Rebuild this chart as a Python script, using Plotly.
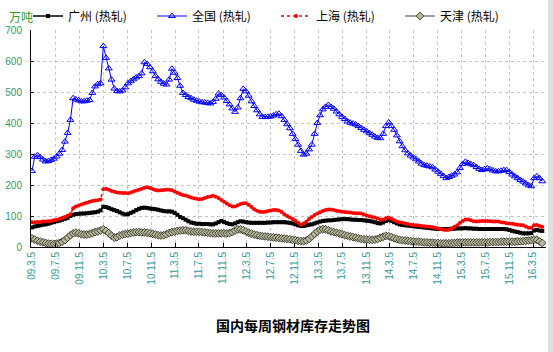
import plotly.graph_objects as go
import pandas as pd

# Weekly stock data sampled every two weeks, starting 2009-03-05
start_date = "2009-03-05"
n_points = 187
dates = pd.date_range(start_date, periods=n_points, freq="14D")

guangzhou = [
    63, 66, 68, 70, 72, 73, 75, 78, 81, 83, 85, 88, 91, 94, 100, 104, 106, 107, 108, 108,
    109, 110, 111, 112, 114, 118, 130, 129, 126, 122, 119, 116, 112, 108, 105, 106, 110, 114, 119, 123,
    126, 127, 126, 124, 123, 122, 120, 118, 116, 115, 115, 114, 110, 104, 97, 93, 88, 83, 79, 77,
    75, 75, 74, 74, 74, 73, 73, 76, 80, 84, 81, 77, 74, 73, 76, 80, 83, 82, 80, 79,
    78, 78, 78, 78, 78, 78, 79, 79, 80, 80, 80, 80, 80, 79, 78, 76, 73, 70, 68, 68,
    70, 72, 73, 76, 79, 82, 84, 85, 86, 86, 87, 88, 89, 90, 90, 90, 89, 88, 88, 87,
    87, 86, 85, 84, 82, 80, 77, 76, 79, 84, 87, 84, 80, 76, 73, 71, 70, 69, 68, 67,
    66, 65, 64, 63, 62, 61, 60, 59, 58, 58, 58, 58, 58, 59, 59, 60, 60, 60, 61, 60,
    60, 59, 59, 58, 58, 58, 58, 58, 58, 58, 58, 58, 58, 57, 55, 52, 50, 48, 46, 44,
    44, 44, 45, 53, 55, 53, 52,
]

quanguo = [
    245, 291, 296, 290, 282, 276, 277, 281, 285, 292, 301, 313, 340, 368, 410, 480, 476, 473, 470, 470,
    472, 474, 497, 518, 525, 528, 648, 610, 576, 540, 511, 503, 502, 505, 515, 528, 535, 541, 547, 551,
    560, 596, 590, 580, 567, 552, 541, 533, 527, 524, 540, 575, 562, 545, 520, 497, 490, 484, 480, 475,
    472, 469, 467, 466, 465, 463, 468, 478, 495, 490, 482, 471, 460, 447, 436, 450, 480, 510, 502, 488,
    470, 455, 441, 428, 420, 419, 420, 421, 424, 428, 430, 422, 410, 396, 383, 365, 348, 330, 310, 298,
    301, 315, 330, 365, 400, 425, 444, 452, 458, 452, 446, 437, 428, 420, 413, 405, 401, 398, 395, 390,
    384, 378, 373, 367, 362, 356, 352, 351, 365, 390, 402, 390, 378, 360, 341, 325, 312, 302, 295, 289,
    283, 276, 269, 264, 262, 260, 257, 250, 243, 236, 229, 222, 226, 230, 234, 241, 255, 268, 275, 271,
    267, 264, 258, 252, 248, 251, 254, 251, 247, 244, 244, 246, 248, 248, 242, 234, 228, 222, 216, 211,
    205, 199, 196, 222, 228, 222, 212,
]

shanghai = [
    80, 80, 81, 81, 82, 82, 83, 84, 86, 88, 90, 94, 97, 101, 106, 125, 131, 134, 137, 140,
    143, 146, 148, 150, 151, 153, 186, 188, 185, 181, 178, 176, 175, 174, 174, 173, 176, 179, 182, 185,
    188, 191, 193, 190, 187, 184, 182, 183, 184, 185, 185, 183, 179, 175, 171, 168, 166, 163, 160, 157,
    156, 154, 155, 158, 161, 163, 165, 162, 158, 152, 146, 140, 135, 131, 131, 135, 139, 141, 141, 136,
    129, 122, 117, 114, 113, 114, 116, 118, 119, 119, 118, 113, 106, 100, 95, 90, 85, 78, 72, 76,
    82, 90, 97, 103, 108, 112, 116, 119, 121, 121, 119, 117, 115, 114, 113, 112, 111, 110, 109, 109,
    108, 105, 102, 99, 97, 95, 92, 88, 89, 93, 95, 91, 86, 82, 80, 78, 76, 74, 72, 71,
    70, 69, 68, 67, 66, 65, 64, 62, 60, 58, 56, 55, 56, 60, 65, 70, 78, 84, 89, 89,
    86, 83, 82, 83, 84, 84, 84, 83, 82, 82, 82, 80, 79, 77, 76, 75, 73, 72, 71, 70,
    66, 62, 62, 70, 71, 68, 65,
]

tianjin = [
    28, 24, 20, 17, 15, 13, 11, 10, 10, 11, 13, 17, 22, 30, 38, 44, 46, 44, 41, 40,
    40, 42, 45, 48, 50, 53, 57, 52, 45, 36, 30, 32, 37, 40, 42, 43, 45, 47, 48, 48,
    47, 47, 46, 44, 42, 40, 38, 37, 38, 41, 45, 48, 50, 52, 53, 54, 54, 52, 50, 49,
    49, 49, 48, 47, 46, 45, 44, 44, 44, 44, 44, 44, 45, 48, 53, 57, 57, 54, 50, 46,
    43, 40, 38, 36, 35, 34, 33, 32, 31, 30, 29, 28, 27, 26, 25, 23, 22, 20, 19, 19,
    21, 26, 34, 42, 50, 56, 58, 57, 54, 50, 48, 46, 44, 41, 38, 36, 34, 32, 30, 28,
    26, 25, 24, 23, 23, 24, 26, 30, 33, 36, 35, 32, 28, 25, 23, 22, 21, 20, 19, 18,
    17, 17, 16, 15, 15, 14, 14, 13, 13, 12, 12, 12, 12, 13, 13, 14, 14, 15, 15, 15,
    15, 15, 15, 15, 15, 15, 15, 16, 16, 16, 16, 17, 17, 17, 17, 17, 17, 18, 18, 19,
    20, 21, 22, 24, 23, 18, 13,
]

tick_dates = [
    "2009-03-05", "2009-07-05", "2009-11-05", "2010-03-05", "2010-07-05", "2010-11-05",
    "2011-03-05", "2011-07-05", "2011-11-05", "2012-03-05", "2012-07-05", "2012-11-05",
    "2013-03-05", "2013-07-05", "2013-11-05", "2014-03-05", "2014-07-05", "2014-11-05",
    "2015-03-05", "2015-07-05", "2015-11-05", "2016-03-05",
]
tick_labels = [
    "09.3.5", "09.7.5", "09.11.5", "10.3.5", "10.7.5", "10.11.5",
    "11.3.5", "11.7.5", "11.11.5", "12.3.5", "12.7.5", "12.11.5",
    "13.3.5", "13.7.5", "13.11.5", "14.3.5", "14.7.5", "14.11.5",
    "15.3.5", "15.7.5", "15.11.5", "16.3.5",
]

names = ["广州 (热轧)", "全国 (热轧)", "上海 (热轧)", "天津 (热轧)"]

fig = go.Figure()
fig.add_trace(go.Scatter(
    x=dates, y=guangzhou, name=names[0], mode="lines+markers",
    line=dict(color="#000000", width=1.5),
    marker=dict(symbol="square", size=4, color="#000000"),
))
fig.add_trace(go.Scatter(
    x=dates, y=quanguo, name=names[1], mode="lines+markers",
    line=dict(color="#0000ff", width=1),
    marker=dict(symbol="triangle-up-open", size=6, color="#0000ff", line=dict(width=1)),
))
fig.add_trace(go.Scatter(
    x=dates, y=shanghai, name=names[2], mode="lines+markers",
    line=dict(color="#ff0000", width=1.5, dash="dot"),
    marker=dict(symbol="circle", size=4, color="#ff0000"),
))
fig.add_trace(go.Scatter(
    x=dates, y=tianjin, name=names[3], mode="lines+markers",
    line=dict(color="#404040", width=1),
    marker=dict(symbol="diamond", size=6, color="#b8b8a0",
                line=dict(color="#404030", width=1)),
))

plot_h = 352 - 30 - 105

fig.update_layout(
    width=553, height=352,
    margin=dict(l=31, r=7, t=30, b=105, autoexpand=False),
    paper_bgcolor="#ffffff", plot_bgcolor="#ffffff",
    font=dict(family="Noto Sans CJK SC", size=12, color="#000000"),
    showlegend=True,
    legend=dict(
        orientation="h", xref="container", x=28 / 553, xanchor="left",
        yref="container", y=1 - 16 / 352, yanchor="middle",
        entrywidth=79, entrywidthmode="pixels",
        font=dict(size=12, color="#000000"),
        bgcolor="rgba(0,0,0,0)", itemclick=False,
    ),
    title=dict(
        text="<b>国内每周钢材库存走势图</b>",
        x=293 / 553, xanchor="center", xref="container",
        y=1 - 326 / 352, yanchor="middle", yref="container",
        font=dict(size=14, color="#000000", family="Noto Sans CJK SC"),
    ),
    xaxis=dict(
        type="date",
        range=["2009-02-28", "2016-05-10"],
        tickvals=tick_dates, ticktext=tick_labels,
        tickangle=-90,
        tickfont=dict(family="Liberation Sans", size=10, color="#339999"),
        ticks="inside", ticklen=4, tickcolor="#000000",
        showline=True, linecolor="#000000", linewidth=1,
        showgrid=True, gridcolor="#c4c4c4", griddash="dot", gridwidth=1,
        zeroline=False,
    ),
    yaxis=dict(
        range=[0, 700], dtick=100,
        tickfont=dict(family="Liberation Sans", size=10, color="#339966"),
        ticks="inside", ticklen=3, tickcolor="#000000",
        ticklabelstandoff=6,
        showline=True, linecolor="#000000", linewidth=1,
        showgrid=True, gridcolor="#c4c4c4", griddash="dot", gridwidth=1,
        zeroline=False,
    ),
    annotations=[dict(
        text="万吨", xref="paper", yref="paper",
        x=-10 / 515, y=1 + 14 / plot_h, xanchor="center", yanchor="middle",
        showarrow=False, font=dict(size=12, color="#2f9a2f", family="Noto Sans CJK SC"),
    )],
    shapes=[dict(
        type="rect", xref="paper", yref="paper",
        x0=(548 - 31) / 515, x1=(553 - 31) / 515,
        y0=-105 / plot_h, y1=1 + 30 / plot_h,
        fillcolor="#e0e0e0", line=dict(width=0), layer="below",
    )],
)

fig.write_html("out.html")
